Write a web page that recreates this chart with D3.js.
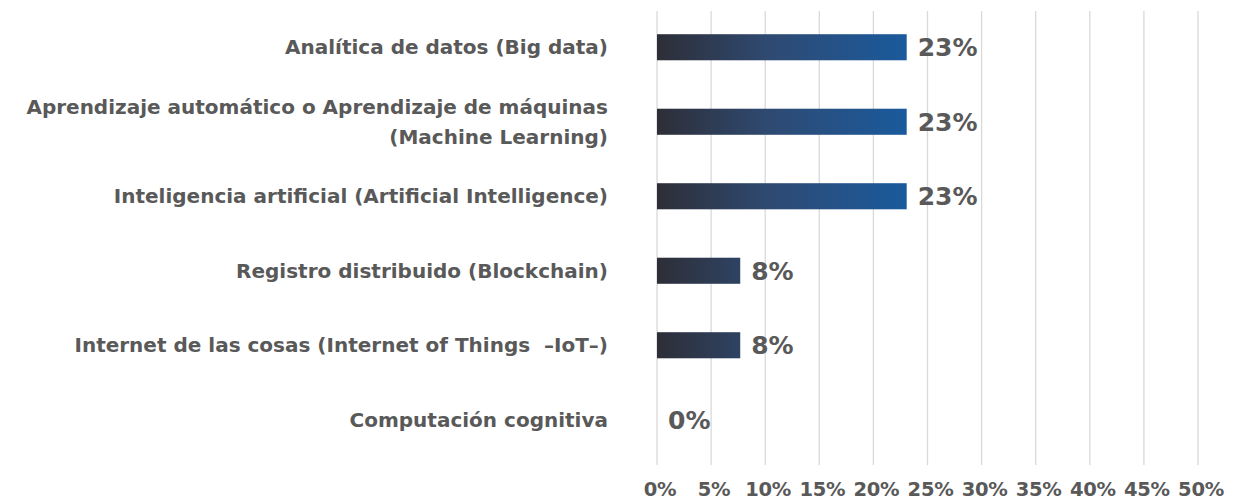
<!DOCTYPE html>
<html><head><meta charset="utf-8">
<script src="https://cdn.jsdelivr.net/npm/d3@7"></script>
<style>
html,body{margin:0;padding:0;background:#fff;}
svg{display:block;font-family:"DejaVu Sans",sans-serif;font-weight:700;}
</style></head>
<body>
<svg id="chart" width="1236" height="502"></svg>
<script>
const categories = [
  ["Analítica de datos (Big data)"],
  ["Aprendizaje automático o Aprendizaje de máquinas", "(Machine Learning)"],
  ["Inteligencia artificial (Artificial Intelligence)"],
  ["Registro distribuido (Blockchain)"],
  ["Internet de las cosas (Internet of Things  –IoT–)"],
  ["Computación cognitiva"]
];
const values = [3/13, 3/13, 3/13, 1/13, 1/13, 0];
const valueLabels = ["23%", "23%", "23%", "8%", "8%", "0%"];
const tickValues = [0, 0.05, 0.10, 0.15, 0.20, 0.25, 0.30, 0.35, 0.40, 0.45, 0.50];

const svg = d3.select("#chart");
const x = d3.scaleLinear().domain([0, 0.5]).range([657, 1198]);
const y = d3.scaleBand().domain(d3.range(categories.length)).range([10, 457]).paddingInner(0.65).paddingOuter(0.325);
const gridTop = 11, gridBottom = 465;
const textColor = "#595959";

const defs = svg.append("defs");
const grad = defs.append("linearGradient").attr("id", "barGrad")
  .attr("gradientUnits", "userSpaceOnUse")
  .attr("x1", x(0)).attr("x2", x(3/13)).attr("y1", 0).attr("y2", 0);
grad.append("stop").attr("offset", "0%").attr("stop-color", "#2d2e37");
grad.append("stop").attr("offset", "45%").attr("stop-color", "#2f4a72");
grad.append("stop").attr("offset", "100%").attr("stop-color", "#1a5a9d");

// gridlines
svg.append("g").selectAll("line").data(tickValues).join("line")
  .attr("x1", d => x(d)).attr("x2", d => x(d))
  .attr("y1", gridTop).attr("y2", gridBottom)
  .attr("stroke", "#d9d9d9").attr("stroke-width", 1.3);

// x tick labels
svg.append("g").selectAll("text").data(tickValues).join("text")
  .attr("x", d => x(d) + 3).attr("y", 489)
  .attr("dy", "0.36em")
  .attr("text-anchor", "middle")
  .attr("fill", textColor).attr("font-size", 19.5)
  .attr("letter-spacing", "-0.3")
  .text(d => d3.format(".0%")(d));

// bars
svg.append("g").selectAll("rect").data(values).join("rect")
  .attr("x", x(0)).attr("y", (d, i) => y(i))
  .attr("width", d => x(d) - x(0)).attr("height", y.bandwidth())
  .attr("fill", "url(#barGrad)");

// value labels
svg.append("g").selectAll("text").data(values).join("text")
  .attr("x", d => x(d) + 11).attr("y", (d, i) => y(i) + y.bandwidth() / 2)
  .attr("dy", "0.36em")
  .attr("fill", textColor).attr("font-size", 25)
  .text((d, i) => valueLabels[i]);

// category labels
const lab = svg.append("g").selectAll("text").data(categories).join("text")
  .attr("x", 608)
  .attr("y", (d, i) => y(i) + y.bandwidth() / 2)
  .attr("text-anchor", "end")
  .attr("fill", textColor).attr("font-size", 20)
  .style("white-space", "pre");
lab.each(function(lines, i) {
  const t = d3.select(this);
  const n = lines.length;
  lines.forEach((ln, k) => {
    t.append("tspan").attr("x", 608)
      .attr("dy", k === 0 ? (0.36 - (n - 1) * 0.77) + "em" : "1.54em")
      .text(ln);
  });
});
</script>
</body></html>
